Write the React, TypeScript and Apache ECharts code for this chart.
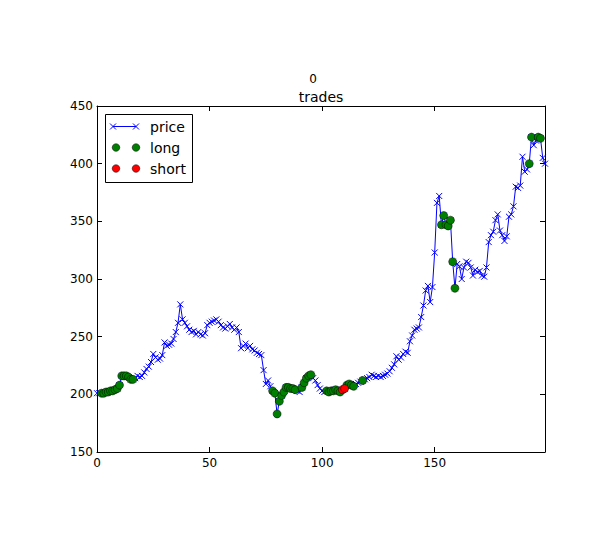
import React, { useEffect, useRef } from 'react';
import * as echarts from 'echarts';

const xTicks = [0, 50, 100, 150];
const yTicks = [150, 200, 250, 300, 350, 400, 450];

const price = [
  201, 201, 201, 201, 202, 202, 203, 203, 204, 205,
  208, 216, 216, 216, 215, 213, 213, 214, 216, 215,
  216, 219, 222, 224, 228, 235, 232, 230, 231, 234,
  245, 242, 243, 244, 248, 254, 262, 278, 265, 262,
  259, 256, 254, 255, 252, 254, 252, 251, 253, 260,
  262, 263, 264, 265, 263, 260, 258, 257, 259, 261,
  258, 256, 258, 254, 240, 242, 244, 240, 242, 239,
  238, 236, 235, 234, 221, 209, 212, 207, 203, 201,
  183, 194, 199, 202, 206, 206, 205, 205, 204, 203,
  202, 206, 210, 214, 216, 217, 214, 212, 208, 205,
  203, 202, 203, 202, 203, 203, 204, 203, 202, 204,
  205, 208, 209, 208, 207, 209, 210, 211, 212, 213,
  214, 215, 217, 216, 215, 216, 215, 216, 217, 218,
  220, 223, 226, 233, 230, 232, 235, 237, 236, 246,
  251, 256, 257, 258, 267, 277, 290, 294, 280, 293,
  323, 366, 372, 347, 355, 347, 346, 351, 315, 292,
  313, 311, 300, 310, 315, 314, 310, 303, 308, 306,
  307, 303, 302, 310, 332, 338, 341, 351, 356, 342,
  338, 333, 337, 354, 356, 363, 380, 379, 381, 406,
  393, 395, 400, 423, 416, 420, 423, 422, 405, 400,
];

const longIdx = [
  2, 3, 4, 5, 6, 7, 8, 9, 10, 11, 12, 13, 14, 15, 16,
  78, 79, 80, 81, 82, 83, 84, 85, 86, 87, 88,
  91, 92, 93, 94, 95,
  102, 103, 104, 105, 106, 107, 108,
  111, 112, 113, 114, 118,
  153, 154, 155, 156, 157, 158, 159,
  192, 193, 196, 197,
];
const shortIdx = [109, 110];

const legendLabels = ['price', 'long', 'short'];
const titleText = 'trades';
const supTitle = '0';

const FONT = '"DejaVu Sans", "Liberation Sans", sans-serif';

export default function App() {
  const ref = useRef<HTMLDivElement>(null);
  useEffect(() => {
    const chart = echarts.init(ref.current!, null, { renderer: 'svg' });
    const priceData = price.map((v, i) => [i, v]);
    const longData = longIdx.map((i) => [i, price[i]]);
    const shortData = shortIdx.map((i) => [i, price[i]]);
    const crossPath = 'path://M0,0L10,10M10,0L0,10';

    const axisCommon = {
      axisLine: { show: true, onZero: false, lineStyle: { color: '#000', width: 1 } },
      axisTick: { show: true, inside: true, length: 5, lineStyle: { color: '#000' } },
      splitLine: { show: false },
    };

    const fmt = (list: number[]) => (v: number) => (list.indexOf(v) >= 0 ? String(v) : '');

    const cross = (cx: number, cy: number) => [
      { type: 'line', shape: { x1: cx - 3, y1: cy - 3, x2: cx + 3, y2: cy + 3 }, style: { stroke: '#0000ff', lineWidth: 1 } },
      { type: 'line', shape: { x1: cx - 3, y1: cy + 3, x2: cx + 3, y2: cy - 3 }, style: { stroke: '#0000ff', lineWidth: 1 } },
    ];
    const dot = (cx: number, cy: number, fill: string) => ({
      type: 'circle', shape: { cx, cy, r: 3.8 }, style: { fill, stroke: '#000', lineWidth: 0.5 },
    });

    chart.setOption({
      animation: false,
      backgroundColor: '#fff',
      grid: { left: 97, top: 106, width: 448, height: 346, containLabel: false },
      xAxis: [
        {
          type: 'value', min: 0, max: 199, interval: 50, position: 'bottom',
          ...axisCommon,
          axisLabel: { show: true, color: '#000', fontSize: 12, fontFamily: FONT, margin: 5, formatter: fmt(xTicks), showMaxLabel: false },
        },
        {
          type: 'value', min: 0, max: 199, interval: 50, position: 'top',
          ...axisCommon,
          axisLabel: { show: false },
        },
      ],
      yAxis: [
        {
          type: 'value', min: 150, max: 450, interval: 50, position: 'left',
          ...axisCommon,
          axisLabel: { show: true, color: '#000', fontSize: 12, fontFamily: FONT, margin: 4, formatter: fmt(yTicks) },
        },
        {
          type: 'value', min: 150, max: 450, interval: 50, position: 'right',
          ...axisCommon,
          axisLabel: { show: false },
        },
      ],
      series: [
        {
          name: 'price', type: 'line', data: priceData,
          xAxisIndex: 0, yAxisIndex: 0,
          symbol: crossPath, symbolSize: 6, showAllSymbol: true,
          lineStyle: { color: '#0000ff', width: 1 },
          itemStyle: { color: 'rgba(0,0,0,0)', borderColor: '#0000ff', borderWidth: 1 },
          z: 2,
        },
        {
          name: 'long', type: 'scatter', data: longData,
          symbol: 'circle', symbolSize: 8,
          itemStyle: { color: '#008000', borderColor: '#000', borderWidth: 0.5, opacity: 1 },
          z: 3,
        },
        {
          name: 'short', type: 'scatter', data: shortData,
          symbol: 'circle', symbolSize: 8,
          itemStyle: { color: '#ff0000', borderColor: '#000', borderWidth: 0.5, opacity: 1 },
          z: 4,
        },
      ],
      graphic: [
        { type: 'text', x: 313, y: 78.5, style: { text: supTitle, fill: '#000', font: `12px ${FONT}`, textAlign: 'center', textVerticalAlign: 'middle' } },
        { type: 'text', x: 321, y: 97, style: { text: titleText, fill: '#000', font: `14px ${FONT}`, textAlign: 'center', textVerticalAlign: 'middle' } },
        {
          type: 'group', z: 100,
          children: [
            { type: 'rect', shape: { x: 105.5, y: 114.5, width: 87, height: 68 }, style: { fill: '#fff', stroke: '#000', lineWidth: 1 } },
            { type: 'line', shape: { x1: 113, y1: 126.5, x2: 136, y2: 126.5 }, style: { stroke: '#0000ff', lineWidth: 1 } },
            ...cross(113, 126.5),
            ...cross(136, 126.5),
            dot(116, 147.5, '#008000'),
            dot(136, 147.5, '#008000'),
            dot(116, 168.5, '#ff0000'),
            dot(136, 168.5, '#ff0000'),
            { type: 'text', x: 150, y: 126.5, style: { text: legendLabels[0], fill: '#000', font: `14px ${FONT}`, textVerticalAlign: 'middle' } },
            { type: 'text', x: 150, y: 147.5, style: { text: legendLabels[1], fill: '#000', font: `14px ${FONT}`, textVerticalAlign: 'middle' } },
            { type: 'text', x: 150, y: 168.5, style: { text: legendLabels[2], fill: '#000', font: `14px ${FONT}`, textVerticalAlign: 'middle' } },
          ],
        },
      ],
    });
    return () => chart.dispose();
  }, []);
  return <div ref={ref} style={{ position: 'fixed', left: 0, top: 0, width: 615, height: 541 }} />;
}
